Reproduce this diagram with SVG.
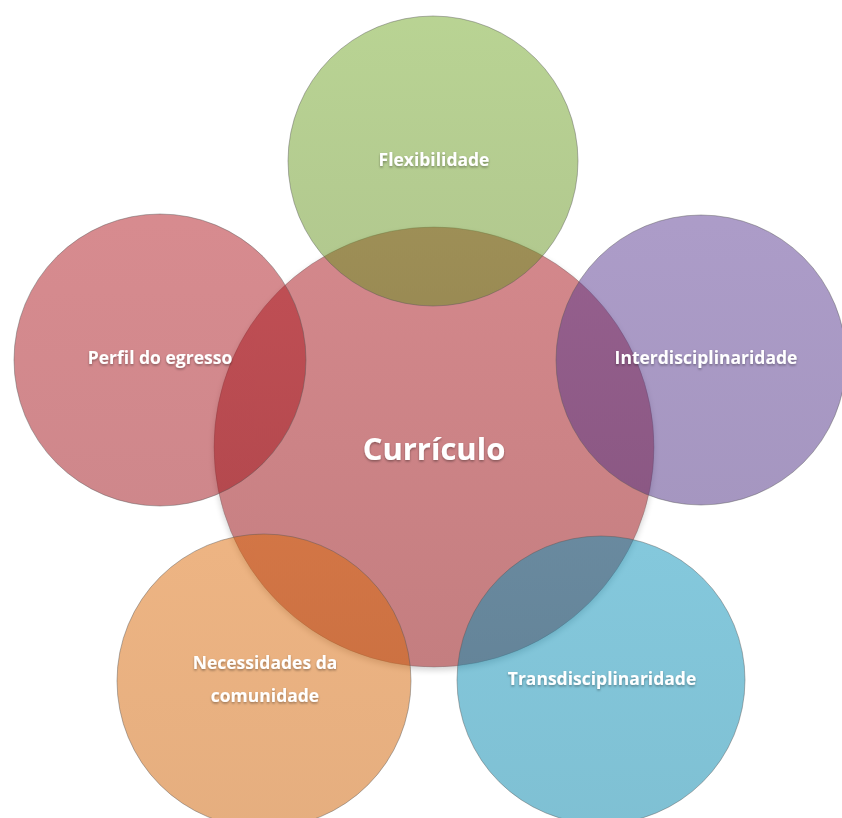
<svg xmlns="http://www.w3.org/2000/svg" width="842" height="818" viewBox="0 0 842 818">
  <defs>
    <linearGradient id="gCenter" x1="0" y1="0" x2="0" y2="1">
      <stop offset="0" stop-color="#D4888C"/>
      <stop offset="1" stop-color="#C47E80"/>
    </linearGradient>
    <linearGradient id="gGreen" x1="0" y1="0" x2="0" y2="1">
      <stop offset="0" stop-color="#73A828"/>
      <stop offset="1" stop-color="#638F1E"/>
    </linearGradient>
    <linearGradient id="gRed" x1="0" y1="0" x2="0" y2="1">
      <stop offset="0" stop-color="#B01820"/>
      <stop offset="1" stop-color="#9E1018"/>
    </linearGradient>
    <linearGradient id="gPurple" x1="0" y1="0" x2="0" y2="1">
      <stop offset="0" stop-color="#5A3A92"/>
      <stop offset="1" stop-color="#4C2E82"/>
    </linearGradient>
    <linearGradient id="gOrange" x1="0" y1="0" x2="0" y2="1">
      <stop offset="0" stop-color="#DC6A08"/>
      <stop offset="1" stop-color="#CC5E00"/>
    </linearGradient>
    <linearGradient id="gBlue" x1="0" y1="0" x2="0" y2="1">
      <stop offset="0" stop-color="#0A92BA"/>
      <stop offset="1" stop-color="#0082A8"/>
    </linearGradient>
    <filter id="shadow" x="-10%" y="-10%" width="120%" height="125%">
      <feGaussianBlur in="SourceAlpha" stdDeviation="3"/>
      <feOffset dx="0" dy="3" result="b"/>
      <feComponentTransfer><feFuncA type="linear" slope="0.18"/></feComponentTransfer>
      <feMerge><feMergeNode/><feMergeNode in="SourceGraphic"/></feMerge>
    </filter>
    <filter id="tshadow" x="-10%" y="-30%" width="120%" height="170%">
      <feDropShadow dx="0" dy="1.5" stdDeviation="1.2" flood-color="#000" flood-opacity="0.35"/>
    </filter>
  </defs>
  <style>
    .sat { fill-opacity: 0.5; stroke: #555; stroke-opacity: 0.55; stroke-width: 0.8; }
    .ctr { stroke: #555; stroke-opacity: 0.4; stroke-width: 0.8; }
    .lbl { font-family: "Open Sans", "Liberation Sans", sans-serif; font-weight: bold; fill: #FFFFFF; text-anchor: middle; font-size: 17.5px; filter: url(#tshadow); }
    .big { font-size: 31px; }
  </style>

  <g id="curriculo">
    <circle class="ctr" cx="434" cy="447" r="220" fill="url(#gCenter)" filter="url(#shadow)"/>
    <text class="lbl big" x="434" y="460">Currículo</text>
  </g>

  <g id="flexibilidade">
    <circle class="sat" cx="433" cy="161" r="145" fill="url(#gGreen)"/>
    <text class="lbl" x="434" y="166">Flexibilidade</text>
  </g>

  <g id="interdisciplinaridade">
    <circle class="sat" cx="701" cy="360" r="145" fill="url(#gPurple)"/>
    <text class="lbl" x="706" y="364">Interdisciplinaridade</text>
  </g>

  <g id="transdisciplinaridade">
    <circle class="sat" cx="601" cy="680" r="144" fill="url(#gBlue)"/>
    <text class="lbl" x="602" y="685">Transdisciplinaridade</text>
  </g>

  <g id="necessidades">
    <circle class="sat" cx="264" cy="681" r="147" fill="url(#gOrange)"/>
    <text class="lbl" x="265" y="669">Necessidades da</text>
    <text class="lbl" x="265" y="702">comunidade</text>
  </g>

  <g id="perfil">
    <circle class="sat" cx="160" cy="360" r="146" fill="url(#gRed)"/>
    <text class="lbl" x="160" y="364">Perfil do egresso</text>
  </g>

  <g id="connectors"/>
</svg>
